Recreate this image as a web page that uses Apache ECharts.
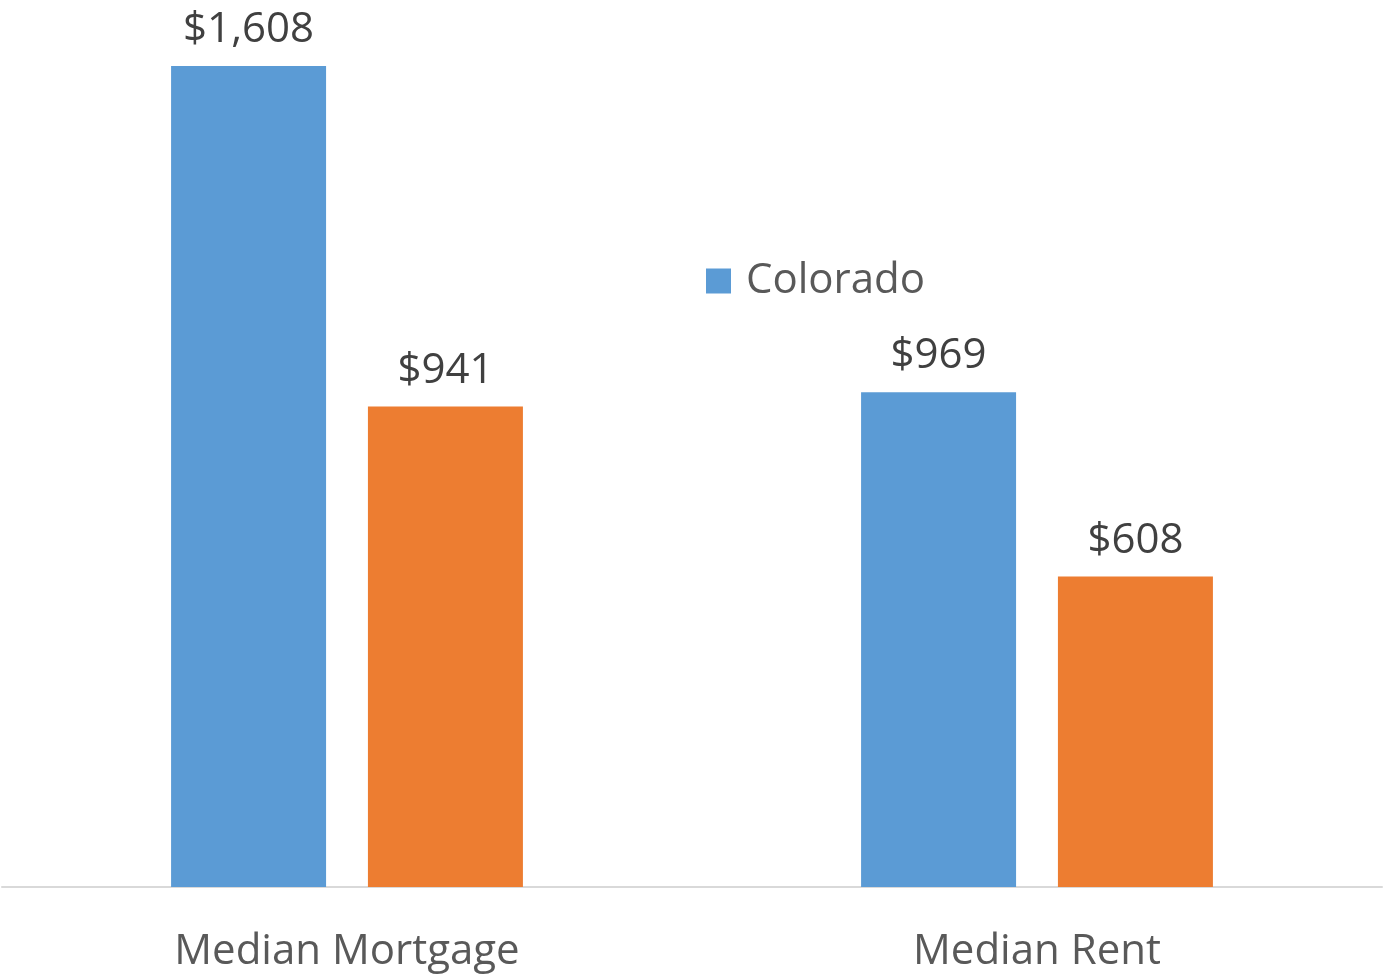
<!DOCTYPE html>
<html>
<head>
<meta charset="utf-8">
<script src="https://cdn.jsdelivr.net/npm/echarts@6/dist/echarts.min.js"></script>
<style>
  html, body { margin: 0; padding: 0; background: #fff; }
  #chart { width: 1383px; height: 980px; }
</style>
</head>
<body>
<div id="chart"></div>
<script>
const categories = ["Median Mortgage", "Median Rent"];
const coloradoValues = [1608, 969];
const otherValues = [941, 608];

var myChart = echarts.init(document.getElementById("chart"));

// dollar labels like $1,608
function money(p) {
  return "$" + p.value.toLocaleString("en-US");
}

var option = {
  animation: false,
  textStyle: { fontFamily: "Open Sans" },
  legend: {
    data: ["Colorado"],
    left: 701,
    top: 255,
    itemWidth: 25,
    itemHeight: 25,
    icon: "rect",
    textStyle: { fontSize: 42, color: "#595959", fontFamily: "Open Sans", padding: [0, 0, 0, 10] }
  },
  grid: { left: 2, right: 1, top: 19, bottom: 93, containLabel: false },
  xAxis: {
    type: "category",
    data: categories,
    axisLine: { lineStyle: { color: "#d9d9d9", width: 2 } },
    axisTick: { show: false },
    axisLabel: { fontSize: 42, color: "#595959", margin: 44 }
  },
  yAxis: {
    type: "value",
    min: 0,
    max: 1700,
    show: false,
    splitLine: { show: false }
  },
  series: [
    {
      name: "Colorado",
      type: "bar",
      data: coloradoValues,
      barWidth: 155,
      barGap: "27%",
      itemStyle: { color: "#5b9bd5" },
      label: { show: true, position: "top", distance: 15, fontSize: 42, color: "#404040", formatter: money }
    },
    {
      name: "Other",
      type: "bar",
      data: otherValues,
      barWidth: 155,
      itemStyle: { color: "#ed7d31" },
      label: { show: true, position: "top", distance: 15, fontSize: 42, color: "#404040", formatter: money }
    }
  ]
};

myChart.setOption(option);
</script>
</body>
</html>
